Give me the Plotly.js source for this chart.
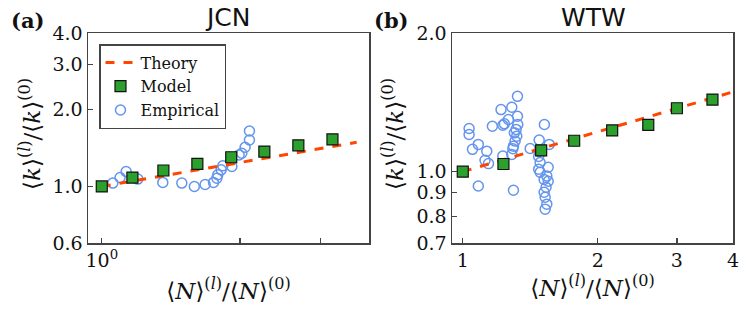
<!DOCTYPE html>
<html>
<head>
<meta charset="utf-8">
<script src="https://cdn.plot.ly/plotly-3.0.1.min.js"></script>
<style>html,body{margin:0;padding:0;background:#fff;}#chart{width:748px;height:317px;}</style>
</head>
<body>
<div id="chart"></div>
<script>
// ---- Panel (a) JCN ----
const jcnTheoryX = [1.0, 3.59];
const jcnTheoryY = [1.0, 1.49];
const jcnModelX = [1.0, 1.166, 1.362, 1.615, 1.914, 2.26, 2.68, 3.18];
const jcnModelY = [1.0, 1.084, 1.155, 1.226, 1.302, 1.37, 1.45, 1.53];
const jcnEmpX = [1.057, 1.096, 1.13, 1.198, 1.358, 1.494, 1.591, 1.679, 1.751, 1.781, 1.789, 1.82, 1.835, 1.92, 1.991, 2.018, 2.052, 2.097, 2.097];
const jcnEmpY = [1.031, 1.084, 1.144, 1.069, 1.037, 1.031, 1.0, 1.018, 1.037, 1.078, 1.111, 1.162, 1.205, 1.197, 1.33, 1.35, 1.425, 1.522, 1.651];

// ---- Panel (b) WTW ----
const wtwTheoryX = [1.0, 4.0];
const wtwTheoryY = [1.0, 1.49];
const wtwModelX = [1.0, 1.232, 1.495, 1.771, 2.152, 2.59, 3.0, 3.6];
const wtwModelY = [1.0, 1.039, 1.112, 1.167, 1.229, 1.264, 1.373, 1.434];
const wtwEmpX = [1.033, 1.033, 1.051, 1.083, 1.131, 1.121, 1.141, 1.083, 1.164, 1.217, 1.228, 1.238, 1.264, 1.286, 1.324, 1.324, 1.326, 1.315, 1.303, 1.319, 1.308, 1.297, 1.293, 1.286, 1.228, 1.297,
  1.413, 1.480, 1.520, 1.558, 1.480, 1.476, 1.487, 1.476, 1.487, 1.550, 1.539, 1.518, 1.550, 1.533, 1.518, 1.526, 1.539, 1.526];
const wtwEmpY = [1.241, 1.204, 1.118, 1.146, 1.108, 1.058, 1.041, 0.931, 1.255, 1.364, 1.261, 1.27, 1.298, 1.38, 1.457, 1.319, 1.266, 1.235, 1.214, 1.194, 1.165, 1.136, 1.121, 1.090, 1.081, 0.911,
  1.123, 1.171, 1.266, 1.146, 1.106, 1.079, 1.047, 1.012, 0.997, 1.022, 0.978, 0.962, 0.953, 0.925, 0.902, 0.880, 0.850, 0.829];

// ---- tick labels ----
const jcnXTicks = [1, 2, 3];
const jcnXTickText = ['10<sup>0</sup>', '', ''];
const jcnYTicks = [0.6, 1, 2, 3, 4];
const jcnYTickText = ['0.6', '1.0', '2.0', '3.0', '4.0'];
const wtwXTicks = [1, 2, 3, 4];
const wtwXTickText = ['1', '2', '3', '4'];
const wtwYTicks = [0.7, 0.8, 0.9, 1, 2];
const wtwYTickText = ['0.7', '0.8', '0.9', '1.0', '2.0'];

const seriesNames = ['Theory', 'Model', 'Empirical'];
const panelTitles = ['JCN', 'WTW'];
const panelLabels = ['(a)', '(b)'];

const serif = 'DejaVu Serif';
const theoryColor = '#FF4500';
const modelColor = '#2ca02c';
const empColor = '#6495ED';

function traces(ex, ey, tx, ty, mx, my, xa, ya, showLeg) {
  return [
    {x: ex, y: ey, xaxis: xa, yaxis: ya, type: 'scatter', mode: 'markers', name: seriesNames[2],
     legendrank: 3, showlegend: showLeg,
     marker: {symbol: 'circle-open', size: 10, color: empColor, line: {width: 1.5, color: empColor}}},
    {x: tx, y: ty, xaxis: xa, yaxis: ya, type: 'scatter', mode: 'lines', name: seriesNames[0],
     legendrank: 1, showlegend: showLeg,
     line: {color: theoryColor, width: 3, dash: 'dash'}},
    {x: mx, y: my, xaxis: xa, yaxis: ya, type: 'scatter', mode: 'markers', name: seriesNames[1],
     legendrank: 2, showlegend: showLeg,
     marker: {symbol: 'square', size: 11, color: modelColor, line: {width: 1.2, color: '#111'}}}
  ];
}

const data = [
  ...traces(jcnEmpX, jcnEmpY, jcnTheoryX, jcnTheoryY, jcnModelX, jcnModelY, 'x', 'y', true),
  ...traces(wtwEmpX, wtwEmpY, wtwTheoryX, wtwTheoryY, wtwModelX, wtwModelY, 'x2', 'y2', false)
];

const axisCommon = {
  type: 'log', showgrid: false, zeroline: false, showline: true, mirror: true,
  linecolor: '#444', linewidth: 1.5, ticks: 'inside', ticklen: 5, tickwidth: 1.2, tickcolor: '#444',
  tickfont: {family: serif, size: 19, color: '#111'}, tickmode: 'array'
};
const xTitle = '⟨<i>N</i>⟩<sup>(<i>l</i>)</sup>/⟨<i>N</i>⟩<sup>(0)</sup>';
const yTitle = '⟨<i>k</i>⟩<sup>(<i>l</i>)</sup>/⟨<i>k</i>⟩<sup>(0)</sup>';
const titleFont = {family: serif, size: 23, color: '#111'};

const yDom = [1 - 243 / 317, 1 - 33 / 317];

function ann(text, px, py, fnt, angle) {
  return {text: text, x: px / 748, y: 1 - py / 317, xref: 'paper', yref: 'paper',
    showarrow: false, xanchor: 'center', yanchor: 'middle', textangle: angle || 0, font: fnt};
}

const layout = {
  width: 748, height: 317,
  margin: {l: 0, r: 0, t: 0, b: 0},
  paper_bgcolor: '#fff', plot_bgcolor: '#fff',
  font: {family: serif, color: '#111'},
  showlegend: true,
  legend: {x: 99 / 748, y: 1 - 44 / 317, xanchor: 'left', yanchor: 'top',
    font: {family: serif, size: 16, color: '#111'}, bgcolor: '#fff',
    bordercolor: '#444', borderwidth: 1.5, tracegroupgap: 0},
  xaxis: Object.assign({}, axisCommon, {domain: [88 / 748, 369 / 748], anchor: 'y',
    range: [-0.030, 0.582], tickvals: jcnXTicks, ticktext: jcnXTickText,
    title: {text: xTitle, font: titleFont, standoff: 12}}),
  yaxis: Object.assign({}, axisCommon, {domain: yDom, anchor: 'x',
    range: [Math.log10(0.6), Math.log10(4)], tickvals: jcnYTicks, ticktext: jcnYTickText}),
  xaxis2: Object.assign({}, axisCommon, {domain: [452 / 748, 733 / 748], anchor: 'y2',
    range: [-0.024, Math.log10(4)], tickvals: wtwXTicks, ticktext: wtwXTickText,
    title: {text: xTitle, font: titleFont, standoff: 5}}),
  yaxis2: Object.assign({}, axisCommon, {domain: yDom, anchor: 'x2',
    range: [Math.log10(0.7), Math.log10(2)], tickvals: wtwYTicks, ticktext: wtwYTickText}),
  annotations: [
    ann(yTitle, 30, 134, titleFont, -90),
    ann(yTitle, 393, 134, titleFont, -90),
    ann(panelTitles[0], 228, 18, {family: 'DejaVu Sans', size: 25, color: '#111'}),
    ann(panelTitles[1], 593, 18, {family: 'DejaVu Sans', size: 25, color: '#111'}),
    ann('<b>' + panelLabels[0] + '</b>', 27, 20, {family: serif, size: 21, color: '#111'}),
    ann('<b>' + panelLabels[1] + '</b>', 391, 20, {family: serif, size: 21, color: '#111'})
  ]
};

Plotly.newPlot('chart', data, layout, {displayModeBar: false, staticPlot: true});
</script>
</body>
</html>
